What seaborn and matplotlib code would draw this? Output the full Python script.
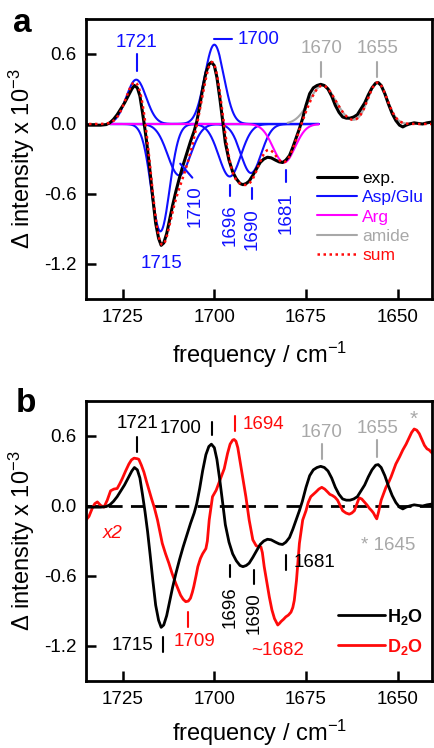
import numpy as np
import pandas as pd
import matplotlib
matplotlib.use('Agg')
import matplotlib.pyplot as plt
from matplotlib.lines import Line2D
import seaborn as sns

# measured spectrum in H2O (the "exp." trace of panel a, "H2O" in panel b)
freq_h2o = [1735.0, 1733.0, 1731.0, 1729.5, 1728.5, 1727.5, 1726.5, 1725.5, 1724.5, 1723.5,
            1722.5, 1721.8, 1721.0, 1720.3, 1719.6, 1718.9, 1718.2, 1717.5, 1716.8, 1716.0,
            1715.2, 1714.5, 1713.8, 1713.0, 1712.2, 1711.4, 1710.5, 1709.5, 1708.5, 1707.5,
            1706.5, 1705.5, 1704.8, 1704.0, 1703.2, 1702.3, 1701.5, 1700.8, 1700.0, 1699.3,
            1698.5, 1697.7, 1697.0, 1696.0, 1695.0, 1694.0, 1693.0, 1692.2, 1691.3, 1690.5,
            1689.5, 1688.6, 1687.5, 1686.5, 1685.5, 1684.5, 1683.3, 1682.3, 1681.4, 1680.5,
            1679.5, 1678.6, 1677.7, 1676.8, 1676.0, 1675.0, 1674.0, 1673.0, 1672.0, 1671.0,
            1670.0, 1669.0, 1668.0, 1667.0, 1666.0, 1665.0, 1664.0, 1663.0, 1662.0, 1661.0,
            1660.0, 1659.0, 1658.0, 1657.0, 1656.0, 1655.3, 1654.5, 1653.5, 1652.5, 1651.5,
            1650.5, 1649.5, 1648.6, 1647.7, 1646.8, 1645.5, 1644.5, 1643.2, 1642.0, 1640.0]
dabs_h2o = [-0.01, -0.01, -0.01, -0.005, 0.01, 0.04, 0.08, 0.13, 0.18, 0.24,
            0.30, 0.33, 0.31, 0.24, 0.10, -0.05, -0.22, -0.42, -0.63, -0.85,
            -0.98, -1.04, -1.02, -0.94, -0.82, -0.70, -0.58, -0.46, -0.35, -0.25,
            -0.15, -0.06, 0.02, 0.15, 0.30, 0.44, 0.51, 0.53, 0.50, 0.40,
            0.22, 0.02, -0.16, -0.31, -0.41, -0.47, -0.51, -0.52, -0.51, -0.49,
            -0.44, -0.39, -0.33, -0.30, -0.285, -0.29, -0.31, -0.325, -0.33, -0.31,
            -0.27, -0.20, -0.12, -0.04, 0.04, 0.16, 0.26, 0.31, 0.33, 0.34,
            0.33, 0.30, 0.24, 0.16, 0.10, 0.06, 0.05, 0.05, 0.06, 0.08,
            0.13, 0.18, 0.25, 0.31, 0.35, 0.355, 0.33, 0.26, 0.17, 0.09,
            0.03, -0.01, -0.025, -0.01, 0.0, 0.01, 0.005, 0.0, 0.01, 0.02]

# measured spectrum in D2O (x2)
freq_d2o = [1735.0, 1734.2, 1733.3, 1732.6, 1731.9, 1731.0, 1730.1, 1729.2, 1728.3, 1727.4,
            1726.5, 1725.8, 1725.1, 1724.2, 1723.3, 1722.6, 1721.9, 1721.0, 1720.6, 1719.9,
            1719.2, 1718.5, 1717.8, 1717.1, 1716.4, 1715.5, 1714.2, 1713.3, 1712.4, 1711.5,
            1710.5, 1709.2, 1708.5, 1707.8, 1707.1, 1706.5, 1706.0, 1705.6, 1705.0, 1704.5,
            1703.8, 1703.2, 1702.3, 1701.9, 1701.4, 1700.9, 1700.5, 1699.5, 1698.6, 1697.9,
            1697.3, 1696.4, 1695.7, 1695.0, 1694.6, 1694.1, 1693.6, 1693.2, 1692.3, 1691.4,
            1690.5, 1689.5, 1688.6, 1687.9, 1687.3, 1686.9, 1686.4, 1685.7, 1685.0, 1684.3,
            1683.6, 1682.7, 1682.2, 1681.8, 1681.1, 1680.5, 1679.8, 1679.1, 1678.6, 1678.2,
            1677.6, 1677.2, 1676.8, 1675.9, 1675.0, 1674.4, 1673.7, 1673.0, 1672.3, 1671.5,
            1670.7, 1669.9, 1669.1, 1668.5, 1667.8, 1667.1, 1666.4, 1665.7, 1665.0, 1664.1,
            1663.2, 1662.5, 1661.8, 1661.1, 1660.5, 1659.8, 1659.1, 1658.4, 1657.7, 1657.1,
            1656.6, 1656.1, 1655.7, 1655.2, 1654.5, 1653.8, 1653.2, 1652.5, 1651.8, 1651.2,
            1650.5, 1649.5, 1648.6, 1647.7, 1646.8, 1646.2, 1645.5, 1644.8, 1644.1, 1643.4,
            1642.7, 1642.0, 1641.4, 1640.5]
dabs_d2o = [-0.12, -0.09, -0.02, 0.02, 0.035, 0.005, -0.01, 0.05, 0.13, 0.145,
            0.15, 0.19, 0.235, 0.30, 0.36, 0.395, 0.41, 0.405, 0.40, 0.35,
            0.29, 0.21, 0.135, 0.06, -0.01, -0.12, -0.32, -0.41, -0.49, -0.58,
            -0.665, -0.765, -0.80, -0.82, -0.815, -0.79, -0.74, -0.69, -0.60, -0.52,
            -0.45, -0.41, -0.365, -0.30, -0.12, -0.01, 0.08, 0.135, 0.21, 0.27,
            0.32, 0.45, 0.53, 0.565, 0.57, 0.555, 0.50, 0.42, 0.25, 0.08,
            -0.12, -0.29, -0.34, -0.35, -0.35, -0.40, -0.52, -0.65, -0.78, -0.89,
            -0.965, -1.02, -1.005, -0.99, -0.97, -0.95, -0.935, -0.91, -0.87, -0.81,
            -0.64, -0.48, -0.32, -0.12, -0.04, 0.03, 0.08, 0.10, 0.12, 0.145,
            0.16, 0.145, 0.12, 0.10, 0.09, 0.075, 0.05, 0.005, -0.04, -0.06,
            -0.07, -0.06, -0.04, 0.02, 0.07, 0.06, 0.035, 0.01, -0.02, -0.04,
            -0.06, -0.09, -0.11, -0.05, 0.05, 0.11, 0.16, 0.20, 0.25, 0.30,
            0.36, 0.42, 0.48, 0.53, 0.59, 0.63, 0.66, 0.65, 0.62, 0.57,
            0.52, 0.49, 0.48, 0.45]

# fitted gaussian bands: centre (cm-1), amplitude, width (sigma, cm-1)
asp_centre = [1721.3, 1714.7, 1709.6, 1700.0, 1695.8, 1690.0]
asp_amp = [0.38, -0.92, -0.44, 0.68, -0.45, -0.42]
asp_width = [2.7, 2.5, 3.1, 2.6, 3.0, 2.8]
arg_centre = [1681.0]
arg_amp = [-0.33]
arg_width = [3.0]
amide_centre = [1670.5, 1655.5]
amide_amp = [0.33, 0.355]
amide_width = [3.6, 2.6]

BLUE = '#1010ff'
GREY = '#a8a8a8'
MAG = '#ff00ff'
RED = '#ff0a0a'

sns.set_style('ticks')
plt.rcParams['font.family'] = ['Liberation Sans', 'DejaVu Sans']
plt.rcParams['axes.unicode_minus'] = False
plt.rcParams['mathtext.fontset'] = 'custom'
plt.rcParams['mathtext.rm'] = 'Liberation Sans'
plt.rcParams['mathtext.it'] = 'Liberation Sans:italic'
plt.rcParams['mathtext.bf'] = 'Liberation Sans:bold'
plt.rcParams['mathtext.default'] = 'regular'
for k in ['text.color', 'axes.labelcolor', 'xtick.color', 'ytick.color', 'axes.edgecolor']:
    plt.rcParams[k] = 'black'


def band(f, c, a, w):
    return a * np.exp(-0.5 * ((f - c) / w) ** 2)


def style_axes(ax, xlab_y):
    ax.set_xlim(1735, 1640.5)
    ax.set_ylim(-1.5, 0.9)
    ax.set_xticks([1725, 1700, 1675, 1650])
    ax.set_yticks([-1.2, -0.6, 0.0, 0.6])
    ax.yaxis.set_major_formatter(matplotlib.ticker.FormatStrFormatter('%.1f'))
    ax.tick_params(direction='in', length=7, width=1.8, labelsize=13.5, pad=7,
                   top=False, right=False, colors='black')
    for s in ax.spines.values():
        s.set_linewidth(2.0)
        s.set_color('black')
        s.set_visible(True)
    ax.set_xlabel('frequency / cm$^{-1}$', fontsize=17)
    ax.set_ylabel('$\\Delta$ intensity x 10$^{-3}$', fontsize=17)
    ax.yaxis.set_label_coords(-0.14, 0.5)
    ax.xaxis.set_label_coords(0.5, xlab_y)


def tick(ax, f, v0, v1, color):
    ax.plot([f, f], [v0, v1], color=color, lw=1.5)


fig = plt.figure(figsize=(4.35, 7.48), dpi=100)
ax_a = fig.add_axes([86 / 435, 449 / 748, 346.5 / 435, 280 / 748])
ax_b = fig.add_axes([86 / 435, 67 / 748, 346.5 / 435, 280 / 748])

# ---- panel a: band fit
grid = np.arange(1728.5, 1671.4, -0.1)
for c, a, w in zip(asp_centre, asp_amp, asp_width):
    sns.lineplot(x=grid, y=band(grid, c, a, w), ax=ax_a, color=BLUE, lw=1.5, errorbar=None)
for c, a, w in zip(arg_centre, arg_amp, arg_width):
    sns.lineplot(x=grid, y=band(grid, c, a, w), ax=ax_a, color=MAG, lw=1.5, errorbar=None)
grid_am = np.arange(1680, 1645, -0.1)
amide = sum(band(grid_am, c, a, w) for c, a, w in zip(amide_centre, amide_amp, amide_width))
sns.lineplot(x=grid_am, y=amide, ax=ax_a, color=GREY, lw=1.5, errorbar=None)

exp_df = pd.DataFrame({'freq': freq_h2o, 'dabs': dabs_h2o})
sns.lineplot(data=exp_df, x='freq', y='dabs', ax=ax_a, color='black', lw=2.2, errorbar=None)

grid_all = np.arange(1735, 1640.4, -0.1)
fit_sum = sum(band(grid_all, c, a, w) for c, a, w in
              zip(asp_centre + arg_centre + amide_centre,
                  asp_amp + arg_amp + amide_amp,
                  asp_width + arg_width + amide_width))
sns.lineplot(x=grid_all, y=fit_sum, ax=ax_a, color=RED, lw=1.8,
             linestyle=(0, (1, 1.4)), errorbar=None)
style_axes(ax_a, -0.145)

# labels panel a
tick(ax_a, 1721.1, 0.45, 0.6, BLUE)
ax_a.text(1721.1, 0.70, '1721', color=BLUE, fontsize=13.5, ha='center', va='center')
ax_a.plot([1700, 1695.1], [0.732, 0.732], color=BLUE, lw=1.5)
ax_a.text(1693.7, 0.726, '1700', color=BLUE, fontsize=13.5, ha='left', va='center')
tick(ax_a, 1670.8, 0.40, 0.53, GREY)
ax_a.text(1670.8, 0.65, '1670', color=GREY, fontsize=13.5, ha='center', va='center')
tick(ax_a, 1655.6, 0.40, 0.53, GREY)
ax_a.text(1655.6, 0.65, '1655', color=GREY, fontsize=13.5, ha='center', va='center')
ax_a.text(1714.5, -1.20, '1715', color=BLUE, fontsize=13.5, ha='center', va='center')
ax_a.plot([1709.3, 1706.0], [-0.34, -0.46], color=BLUE, lw=1.5)
ax_a.text(1705.2, -0.70, '1710', color=BLUE, fontsize=13.5, ha='center', va='center', rotation=90)
tick(ax_a, 1695.6, -0.52, -0.62, BLUE)
ax_a.text(1695.6, -0.865, '1696', color=BLUE, fontsize=13.5, ha='center', va='center', rotation=90)
tick(ax_a, 1689.6, -0.545, -0.645, BLUE)
ax_a.text(1689.6, -0.90, '1690', color=BLUE, fontsize=13.5, ha='center', va='center', rotation=90)
tick(ax_a, 1680.4, -0.39, -0.50, BLUE)
ax_a.text(1680.4, -0.765, '1681', color=BLUE, fontsize=13.5, ha='center', va='center', rotation=90)

handles_a = [Line2D([], [], color='black', lw=2.2),
             Line2D([], [], color=BLUE, lw=1.5),
             Line2D([], [], color=MAG, lw=1.5),
             Line2D([], [], color=GREY, lw=1.5),
             Line2D([], [], color=RED, lw=1.8, linestyle=(0, (1, 1.4)))]
ax_a.legend(handles_a, ['exp.', 'Asp/Glu', 'Arg', 'amide', 'sum'],
            loc='upper left', bbox_to_anchor=(0.667, 0.458), frameon=False,
            fontsize=12.5, handlelength=2.3, handletextpad=0.3, labelspacing=0.24,
            borderpad=0, borderaxespad=0,
            labelcolor=['black', BLUE, MAG, GREY, RED])

# ---- panel b: H2O vs D2O
ax_b.axhline(0, color='black', lw=2.0, linestyle=(0, (5, 3)))
d2o_df = pd.DataFrame({'freq': freq_d2o, 'dabs': dabs_d2o})
sns.lineplot(data=d2o_df, x='freq', y='dabs', ax=ax_b, color=RED, lw=2.0, errorbar=None)
sns.lineplot(data=exp_df, x='freq', y='dabs', ax=ax_b, color='black', lw=2.0, errorbar=None)
style_axes(ax_b, -0.13)

tick(ax_b, 1721.1, 0.463, 0.59, 'black')
ax_b.text(1721.0, 0.706, '1721', color='black', fontsize=13.5, ha='center', va='center')
tick(ax_b, 1700.6, 0.606, 0.72, 'black')
ax_b.text(1709.1, 0.663, '1700', color='black', fontsize=13.5, ha='center', va='center')
tick(ax_b, 1694.4, 0.64, 0.77, RED)
ax_b.text(1686.6, 0.70, '1694', color=RED, fontsize=13.5, ha='center', va='center')
tick(ax_b, 1670.7, 0.406, 0.535, GREY)
ax_b.text(1670.7, 0.634, '1670', color=GREY, fontsize=13.5, ha='center', va='center')
tick(ax_b, 1655.6, 0.42, 0.563, GREY)
ax_b.text(1655.6, 0.663, '1655', color=GREY, fontsize=13.5, ha='center', va='center')
ax_b.text(1645.5, 0.74, '*', color=GREY, fontsize=15, ha='center', va='center')
ax_b.text(1727.7, -0.237, 'x2', color=RED, fontsize=13.5, ha='center', va='center', style='italic')
ax_b.text(1652.7, -0.337, '* 1645', color=GREY, fontsize=13.5, ha='center', va='center')
tick(ax_b, 1680.4, -0.422, -0.551, 'black')
ax_b.text(1678.4, -0.488, '1681', color='black', fontsize=13.5, ha='left', va='center')
tick(ax_b, 1695.6, -0.508, -0.608, 'black')
ax_b.text(1695.6, -0.865, '1696', color='black', fontsize=13.5, ha='center', va='center', rotation=90)
tick(ax_b, 1689.1, -0.551, -0.665, 'black')
ax_b.text(1689.1, -0.922, '1690', color='black', fontsize=13.5, ha='center', va='center', rotation=90)
tick(ax_b, 1714.1, -1.123, -1.251, 'black')
ax_b.text(1722.3, -1.194, '1715', color='black', fontsize=13.5, ha='center', va='center')
tick(ax_b, 1707.1, -0.908, -1.037, RED)
ax_b.text(1705.5, -1.165, '1709', color=RED, fontsize=13.5, ha='center', va='center')
ax_b.text(1682.7, -1.236, '~1682', color=RED, fontsize=13.5, ha='center', va='center')

handles_b = [Line2D([], [], color='black', lw=2.0), Line2D([], [], color=RED, lw=2.0)]
ax_b.legend(handles_b, ['$\\mathbf{H_2O}$', '$\\mathbf{D_2O}$'],
            loc='upper left', bbox_to_anchor=(0.727, 0.265), frameon=False,
            fontsize=13, handlelength=2.6, handletextpad=0.1, labelspacing=0.55,
            borderpad=0, borderaxespad=0, labelcolor=['black', RED])

fig.text(13 / 435, 1 - 31.7 / 748, 'a', fontsize=24, fontweight='bold', ha='left', va='baseline')
fig.text(16 / 435, 1 - 411.7 / 748, 'b', fontsize=24, fontweight='bold', ha='left', va='baseline')

fig.savefig('out.png', dpi=100)
